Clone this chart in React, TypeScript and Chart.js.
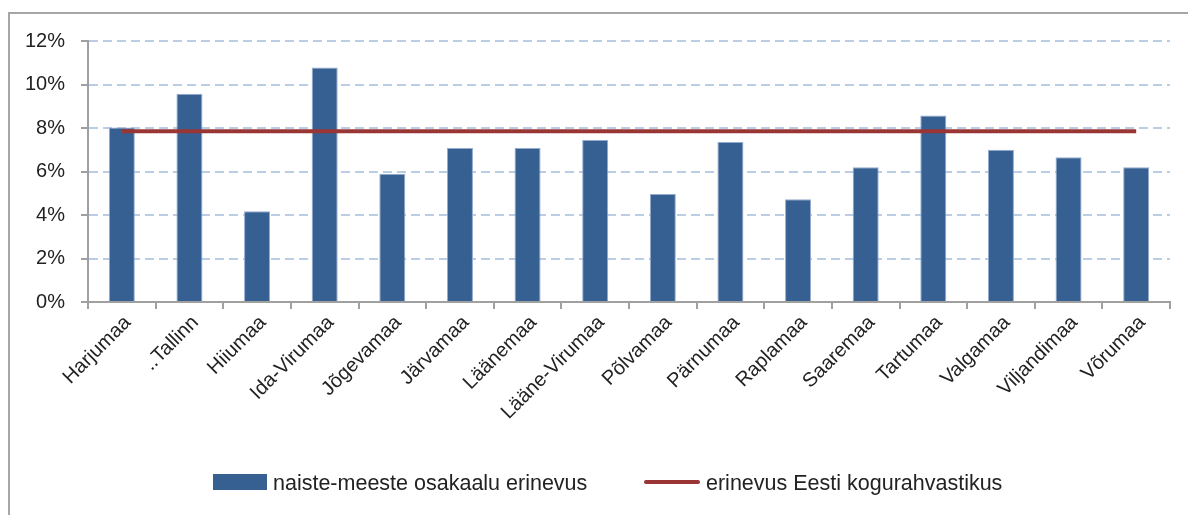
import React, { useEffect, useRef } from "react";
import { Chart, registerables } from "chart.js";

Chart.register(...registerables);

const categories = [
  "Harjumaa",
  "..Tallinn",
  "Hiiumaa",
  "Ida-Virumaa",
  "Jõgevamaa",
  "Järvamaa",
  "Läänemaa",
  "Lääne-Virumaa",
  "Põlvamaa",
  "Pärnumaa",
  "Raplamaa",
  "Saaremaa",
  "Tartumaa",
  "Valgamaa",
  "Viljandimaa",
  "Võrumaa",
];

const diffValues = [8.02, 9.58, 4.17, 10.78, 5.9, 7.08, 7.08, 7.45, 4.96, 7.36, 4.72, 6.19, 8.57, 7.0, 6.65, 6.19];
const estoniaTotal = [7.85, 7.85, 7.85, 7.85, 7.85, 7.85, 7.85, 7.85, 7.85, 7.85, 7.85, 7.85, 7.85, 7.85, 7.85, 7.85];

const barLabel = "naiste-meeste osakaalu erinevus";
const lineLabel = "erinevus Eesti kogurahvastikus";
const yTicks = [0, 2, 4, 6, 8, 10, 12];

const FONT = "'Liberation Sans', Arial, sans-serif";
const BAR_COLOR = "#366092";
const LINE_COLOR = "#993535";
const AXIS_COLOR = "#a0a0a0";

const framePlugin = {
  id: "frame",
  beforeDraw(chart: any) {
    const ctx = chart.ctx;
    ctx.save();
    ctx.fillStyle = "#ffffff";
    ctx.fillRect(0, 0, chart.width, chart.height);
    ctx.strokeStyle = "#a6a6a6";
    ctx.lineWidth = 2;
    ctx.beginPath();
    ctx.moveTo(9, chart.height + 10);
    ctx.lineTo(9, 13);
    ctx.lineTo(chart.width + 10, 13);
    ctx.stroke();
    ctx.restore();
  },
  afterDraw(chart: any) {
    const ctx = chart.ctx;
    const ds = chart.data.datasets;
    ctx.save();
    ctx.font = `21.5px ${FONT}`;
    ctx.textBaseline = "alphabetic";
    ctx.textAlign = "left";
    const barDs = ds.find((d: any) => d.type === "bar");
    const lineDs = ds.find((d: any) => d.type === "line");
    // bar legend item
    ctx.fillStyle = barDs.backgroundColor;
    ctx.fillRect(213, 474, 54, 16);
    ctx.fillStyle = "#222222";
    ctx.fillText(barDs.label, 273, 490);
    // line legend item
    ctx.strokeStyle = lineDs.borderColor;
    ctx.lineWidth = 4;
    ctx.lineCap = "round";
    ctx.beginPath();
    ctx.moveTo(646, 482);
    ctx.lineTo(698, 482);
    ctx.stroke();
    ctx.fillText(lineDs.label, 706, 490);
    ctx.restore();
  },
};

export default function App() {
  const canvasRef = useRef<HTMLCanvasElement | null>(null);

  useEffect(() => {
    if (!canvasRef.current) return;
    const chart = new Chart(canvasRef.current, {
      type: "bar",
      data: {
        labels: categories,
        datasets: [
          {
            type: "line",
            label: lineLabel,
            data: estoniaTotal,
            borderColor: LINE_COLOR,
            backgroundColor: LINE_COLOR,
            borderWidth: 4,
            pointRadius: 0,
            tension: 0,
            order: 0,
          } as any,
          {
            type: "bar",
            label: barLabel,
            data: diffValues,
            backgroundColor: BAR_COLOR,
            borderColor: "#95acd0",
            borderWidth: 1,
            barPercentage: 0.385,
            categoryPercentage: 1,
            order: 1,
          } as any,
        ],
      },
      options: {
        responsive: false,
        animation: false,
        layout: { padding: { top: 41, right: 18, left: 0, bottom: 0 } },
        plugins: {
          legend: { display: false },
          tooltip: { enabled: false },
        },
        scales: {
          x: {
            offset: true,
            grid: {
              offset: true,
              drawOnChartArea: false,
              drawTicks: true,
              tickLength: 7,
              color: AXIS_COLOR,
              lineWidth: 2,
            },
            border: { display: true, color: AXIS_COLOR, width: 2 },
            ticks: {
              autoSkip: false,
              minRotation: 45,
              maxRotation: 45,
              padding: 2,
              labelOffset: 6,
              color: "#222222",
              font: { family: FONT, size: 20 },
            },
            afterFit(scale: any) {
              scale.height = 213;
            },
          },
          y: {
            min: 0,
            max: 12,
            afterBuildTicks(scale: any) {
              scale.ticks = yTicks.map((v) => ({ value: v }));
            },
            grid: {
              color: (c: any) => (c.tick && c.tick.value === 0 ? "rgba(0,0,0,0)" : "#b9cde5"),
              lineWidth: 2,
              drawTicks: true,
              tickLength: 7,
              tickColor: AXIS_COLOR,
              tickWidth: 2,
              tickBorderDash: [],
            },
            border: { display: true, color: AXIS_COLOR, width: 2, dash: [9, 5] },
            ticks: {
              padding: 16,
              color: "#222222",
              font: { family: FONT, size: 20 },
              callback: (v: any) => `${v}%`,
            },
            afterFit(scale: any) {
              scale.width = 88;
            },
          },
        },
      },
      plugins: [framePlugin],
    });
    return () => chart.destroy();
  }, []);

  return (
    <div style={{ position: "fixed", left: 0, top: 0, width: 1188, height: 515, background: "#fff" }}>
      <canvas ref={canvasRef} width={1188} height={515} style={{ display: "block", width: 1188, height: 515 }} />
    </div>
  );
}
